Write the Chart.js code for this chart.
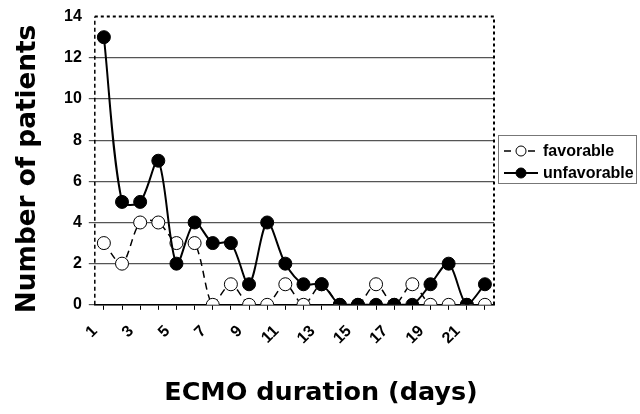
<!DOCTYPE html>
<html>
<head>
<meta charset="utf-8">
<script src="https://cdn.jsdelivr.net/npm/chart.js@4.4.1/dist/chart.umd.min.js"></script>
<style>
  html, body { margin: 0; padding: 0; background: #fff; }
  #wrap { width: 640px; height: 414px; }
</style>
</head>
<body>
<div id="wrap"><canvas id="ecmoChart" width="640" height="414"></canvas></div>
<script>
// ECMO duration in days (x categories)
const days = ["1", "2", "3", "4", "5", "6", "7", "8", "9", "10", "11",
  "12", "13", "14", "15", "16", "17", "18", "19", "20", "21", "22"];
// number of patients per day
const favorable = [3, 2, 4, 4, 3, 3, 0, 1, 0, 0, 1, 0, 1, 0, 0, 1, 0, 1, 0, 0, 0, 0];
const unfavorable = [13, 5, 5, 7, 2, 4, 3, 3, 1, 4, 2, 1, 1, 0, 0, 0, 0, 0, 1, 2, 0, 1];
const seriesNames = ["favorable", "unfavorable"];
const xTitle = "ECMO duration (days)";
const yTitle = "Number of patients";

// dotted frame (left, top, right) of the plot area
const plotFrame = {
  id: "plotFrame",
  beforeDatasetsDraw(chart) {
    const { ctx, chartArea: a } = chart;
    ctx.save();
    ctx.strokeStyle = "#000";
    ctx.lineWidth = 2;
    ctx.setLineDash([3, 3]);
    ctx.beginPath();
    ctx.moveTo(a.left, a.top);
    ctx.lineTo(a.right, a.top);
    ctx.lineTo(a.right, a.bottom);
    ctx.stroke();
    ctx.lineWidth = 1.5;
    ctx.setLineDash([4, 3]);
    ctx.beginPath();
    ctx.moveTo(a.left, a.bottom);
    ctx.lineTo(a.left, a.top);
    ctx.stroke();
    ctx.restore();
  }
};

// axis titles, placed like in the original figure
const axisTitles = {
  id: "axisTitles",
  afterDraw(chart) {
    const { ctx, width, height } = chart;
    ctx.save();
    ctx.fillStyle = "#000";
    ctx.textAlign = "center";
    ctx.textBaseline = "middle";
    ctx.font = "bold 25.5px 'DejaVu Sans', Verdana, sans-serif";
    ctx.fillText(xTitle, width / 2 + 1, height - 21);
    ctx.translate(28, 169);
    ctx.rotate(-Math.PI / 2);
    ctx.font = "bold 26.3px 'DejaVu Sans', Verdana, sans-serif";
    ctx.fillText(yTitle, 0, 0);
    ctx.restore();
  }
};

// boxed legend to the right of the plot
const legendBox = {
  id: "legendBox",
  afterDraw(chart) {
    const { ctx, chartArea: a } = chart;
    const x = a.right + 4, y = 135, w = 138, h = 48;
    ctx.save();
    ctx.fillStyle = "#fff";
    ctx.fillRect(x, y, w, h);
    ctx.strokeStyle = "#777";
    ctx.lineWidth = 1;
    ctx.strokeRect(x + 0.5, y + 0.5, w, h);
    chart.data.datasets.forEach((ds, i) => {
      const cy = y + 16 + i * 22;
      ctx.strokeStyle = "#000";
      ctx.lineWidth = ds.borderWidth;
      ctx.setLineDash(ds.borderDash || []);
      ctx.beginPath();
      ctx.moveTo(x + 6, cy);
      ctx.lineTo(x + 40, cy);
      ctx.stroke();
      ctx.setLineDash([]);
      ctx.beginPath();
      ctx.arc(x + 23, cy, 5, 0, Math.PI * 2);
      ctx.fillStyle = ds.pointBackgroundColor;
      ctx.fill();
      ctx.lineWidth = 1;
      ctx.stroke();
      ctx.fillStyle = "#000";
      ctx.font = "bold 16px 'Liberation Sans', Arial, sans-serif";
      ctx.textBaseline = "middle";
      ctx.fillText(ds.label, x + 45, cy + 1);
    });
    ctx.restore();
  }
};

const config = {
  type: "line",
  data: {
    labels: days,
    datasets: [
      {
        label: seriesNames[0],
        data: favorable,
        borderColor: "#000",
        borderWidth: 1.5,
        borderDash: [7, 5],
        pointBackgroundColor: "#fff",
        pointBorderColor: "#000",
        pointBorderWidth: 1,
        pointRadius: 6.5,
        tension: 0.3,
        order: 1
      },
      {
        label: seriesNames[1],
        data: unfavorable,
        borderColor: "#000",
        borderWidth: 2,
        pointBackgroundColor: "#000",
        pointBorderColor: "#000",
        pointBorderWidth: 1,
        pointRadius: 6.5,
        tension: 0.3,
        order: 0
      }
    ]
  },
  options: {
    responsive: false,
    animation: false,
    layout: { padding: { top: 8, right: 146, left: 57, bottom: 54 } },
    plugins: {
      legend: { display: false },
      tooltip: { enabled: false }
    },
    scales: {
      x: {
        offset: true,
        grid: { drawOnChartArea: false, tickLength: 5, color: "#000" },
        border: { color: "#000", width: 1.5 },
        ticks: {
          autoSkip: false,
          minRotation: 45,
          maxRotation: 45,
          padding: 12,
          labelOffset: -9,
          color: "#000",
          font: { family: "'Liberation Sans', Arial, sans-serif", size: 16, weight: "bold" },
          callback: (v, i) => (i % 2 === 0 ? days[i] : "")
        }
      },
      y: {
        min: 0,
        max: 14,
        ticks: {
          stepSize: 2,
          padding: 7,
          color: "#000",
          font: { family: "'Liberation Sans', Arial, sans-serif", size: 16, weight: "bold" }
        },
        grid: {
          tickLength: 6,
          color: (c) => (c.tick && c.tick.value === 14 ? "rgba(0,0,0,0)" : "#555"),
          lineWidth: 1.2
        },
        border: { display: false }
      }
    }
  },
  plugins: [plotFrame, axisTitles, legendBox]
};

new Chart(document.getElementById("ecmoChart"), config);
</script>
</body>
</html>
